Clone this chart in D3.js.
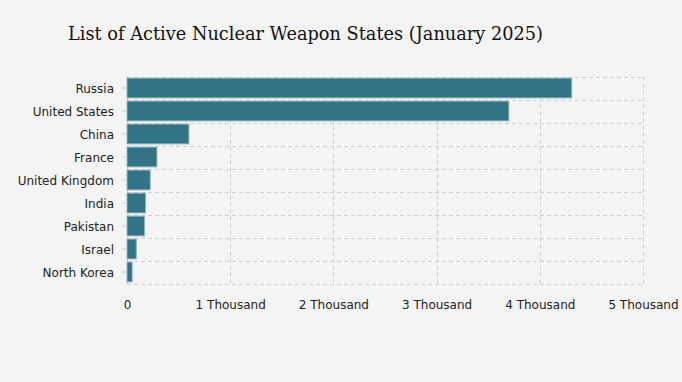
<!DOCTYPE html>
<html><head><meta charset="utf-8">
<script src="https://cdn.jsdelivr.net/npm/d3@7"></script>
<style>body{margin:0;background:#f4f4f4;}svg{display:block;}</style>
</head><body>
<svg id="c" width="682" height="382"></svg>
<script>
const countries = ["Russia","United States","China","France","United Kingdom","India","Pakistan","Israel","North Korea"];
const warheads = [4309,3700,600,290,225,180,170,90,50];
const xTicks = [0,1000,2000,3000,4000,5000];
const xTickLabels = ["0","1 Thousand","2 Thousand","3 Thousand","4 Thousand","5 Thousand"];
const title = "List of Active Nuclear Weapon States (January 2025)";

const svg = d3.select("#c");
svg.append("rect").attr("width",682).attr("height",382).attr("fill","#f4f4f4");
const L=127, R=643, T=76.5, B=283.5;
const x = d3.scaleLinear().domain([0,5000]).range([L,R]);
const y = d3.scaleBand().domain(countries).range([T,B]).paddingInner(0.14).paddingOuter(0.07);
const step = y.step();
const grid = svg.append("g").attr("stroke","#cfcfcf").attr("stroke-dasharray","4,3").attr("stroke-width",1);
d3.range(countries.length+1).forEach(i=>{
  const yy = Math.round(T + i*step)+0.5;
  grid.append("line").attr("x1",L).attr("x2",R).attr("y1",yy).attr("y2",yy);
});
xTicks.forEach(t=>{
  const xx = Math.round(x(t))+0.5;
  grid.append("line").attr("x1",xx).attr("x2",xx).attr("y1",T).attr("y2",B);
});
svg.append("g").selectAll("rect").data(countries).join("rect")
  .attr("x",x(0)).attr("y",d=>y(d)).attr("height",y.bandwidth())
  .attr("width",(d,i)=>x(warheads[i])-x(0))
  .attr("fill","#327485").attr("stroke","#8fb3bd").attr("stroke-width",1);
const ya = svg.append("g").attr("transform",`translate(${L},0)`)
  .call(d3.axisLeft(y).tickSize(5).tickPadding(8));
ya.select(".domain").remove();
ya.selectAll(".tick line").attr("stroke","#cccccc");
ya.selectAll("text").attr("font-family","DejaVu Sans, Verdana, sans-serif").attr("font-size",12).attr("fill","#222").attr("dy","0.45em");
const xa = svg.append("g").attr("transform",`translate(0,${B})`)
  .call(d3.axisBottom(x).tickValues(xTicks).tickFormat((d,i)=>xTickLabels[i]).tickSize(0).tickPadding(17));
xa.select(".domain").remove();
xa.selectAll("text").attr("font-family","DejaVu Sans, Verdana, sans-serif").attr("font-size",12).attr("fill","#222");
svg.append("text").attr("x",68).attr("y",40).text(title)
  .attr("font-family","DejaVu Serif, serif").attr("font-size",19).attr("fill","#111")
  .attr("textLength",475).attr("lengthAdjust","spacingAndGlyphs");
</script>
</body></html>
